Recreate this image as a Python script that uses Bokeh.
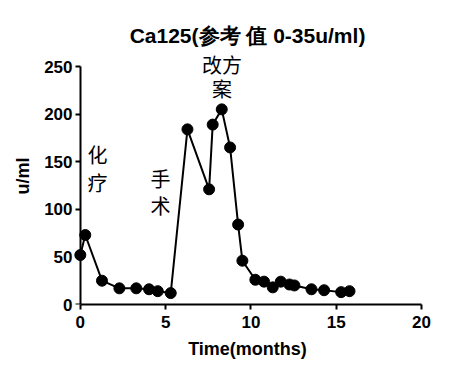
from bokeh.plotting import figure
from bokeh.models import Range1d, ColumnDataSource, FixedTicker, LinearAxis
from bokeh.core.properties import value
from bokeh.embed import file_html
from bokeh.resources import INLINE

months = [0.0, 0.29, 1.27, 2.29, 3.28, 4.03, 4.54, 5.30, 6.28, 7.55, 7.76, 8.29,
          8.78, 9.25, 9.50, 10.26, 10.77, 11.28, 11.75, 12.26, 12.55, 13.55,
          14.29, 15.29, 15.78]
ca125 = [52, 73, 25, 17, 17, 16, 14, 12, 184, 121, 189, 205,
         165, 84, 46, 26, 24, 18, 24, 21, 20, 16, 15, 13, 14]

x_ticks = [0, 5, 10, 15, 20]
y_ticks = [0, 50, 100, 150, 200, 250]

note_lines = ["化", "疗", "手", "术", "改方", "案"]
note_x = [1.0, 1.0, 4.7, 4.7, 8.3, 8.3]
note_y = [173, 143, 148, 119, 267, 242]

title = "Ca125(参考 值 0-35u/ml)"

p = figure(width=466, height=370, output_backend="svg", toolbar_location=None,
           x_range=Range1d(-0.4, 20), y_range=Range1d(0, 270),
           min_border_left=73, min_border_right=45, min_border_top=47,
           min_border_bottom=66, title=title)

p.outline_line_color = None
p.xgrid.visible = False
p.ygrid.visible = False

p.title.text_font = "Liberation Sans"
p.title.text_font_style = "bold"
p.title.text_font_size = "21px"
p.title.text_color = "black"
p.title.align = "center"
p.title.offset = 7
p.title.standoff = 2

def style(ax):
    ax.axis_line_width = 2
    ax.axis_line_color = "black"
    ax.major_tick_line_width = 2
    ax.major_tick_line_color = "black"
    ax.major_tick_out = 5
    ax.major_tick_in = 0
    ax.minor_tick_line_color = None
    ax.major_label_text_font = "Liberation Sans"
    ax.major_label_text_font_style = "bold"
    ax.major_label_text_font_size = "17px"
    ax.major_label_text_color = "black"
    ax.axis_label_text_font = "Liberation Sans"
    ax.axis_label_text_font_style = "bold"
    ax.axis_label_text_font_size = "18px"
    ax.axis_label_text_color = "black"

xa = p.xaxis[0]
style(xa)
xa.ticker = FixedTicker(ticks=x_ticks)
xa.bounds = (0, 20)
xa.axis_label = "Time(months)"
xa.major_label_standoff = 6
xa.axis_label_standoff = 8

# left-panel axis: carries the tick labels and the title of the y axis
ya = p.yaxis[0]
style(ya)
ya.ticker = FixedTicker(ticks=y_ticks)
ya.axis_line_color = None
ya.major_tick_line_color = None
ya.major_tick_out = 0
ya.major_label_standoff = 1
ya.axis_label = "u/ml"
ya.axis_label_standoff = 8

# axis line and ticks placed at x = 0
y0 = LinearAxis(fixed_location=0, ticker=FixedTicker(ticks=y_ticks), bounds=(0, 250))
style(y0)
y0.major_label_text_color = None
y0.major_label_text_font_size = "1px"
y0.major_label_standoff = 0
p.add_layout(y0, "left")

src = ColumnDataSource(dict(x=months, y=ca125))
p.line("x", "y", source=src, line_color="black", line_width=2)
p.scatter("x", "y", source=src, size=11, fill_color="black", line_color="black")

p.text(x=note_x, y=note_y, text=note_lines,
       text_font=value("Noto Sans CJK SC"), text_font_size="20px",
       text_align="center", text_baseline="top", text_color="black")

open("out.html", "w").write(file_html(p, INLINE))
